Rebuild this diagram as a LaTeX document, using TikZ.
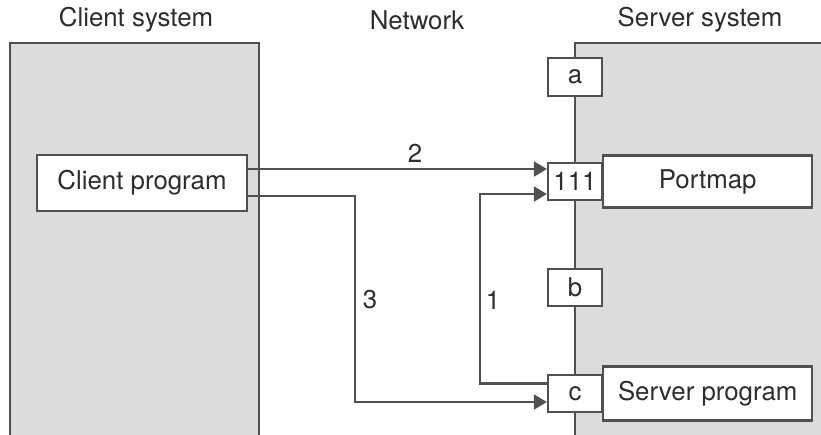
\documentclass[tikz,border=0pt]{standalone}
\usepackage{fontspec}
\setmainfont{TeX Gyre Heros}
\usetikzlibrary{arrows.meta,positioning}
\definecolor{sysgray}{RGB}{220,220,220}
\definecolor{linegray}{RGB}{80,80,80}
\definecolor{textgray}{RGB}{45,45,45}

\begin{document}
\begin{tikzpicture}[x=0.02cm, y=-0.02cm,
    lbl/.style={text=textgray, font=\fontsize{14.7}{17}\selectfont},
    progbox/.style={lbl, draw=linegray, fill=white, line width=1.3pt, minimum width=4.18cm},
    portbox/.style={lbl, draw=linegray, fill=white, line width=1.3pt, minimum width=1.08cm, minimum height=0.75cm, inner sep=0pt},
    link/.style={linegray, line width=1.2pt},
    tip/.style={-{Triangle[length=0.26cm, width=0.3cm]}}]
    \useasboundingbox (0,0) rectangle (821,434);

    % Systems
    \fill[sysgray] (10,43) rectangle (259,440);
    \draw[link, line width=1.3pt] (10,440) -- (10,43) -- (259,43) -- (259,440);
    \fill[sysgray] (575,43) rectangle (830,440);
    \draw[link, line width=1.3pt] (575,440) -- (575,43) -- (830,43);

    % Titles
    \node[lbl] (tclient) at (136,20) {Client system};
    \node[lbl] (tnet) at (417,20) {Network};
    \node[lbl] (tserver) at (700,20) {Server system};

    % Programs
    \node[progbox, minimum width=4.2cm, minimum height=1.12cm] (client) at (142,183) {Client program};
    \node[portbox] (pa) at (575,77) {a};
    \node[portbox] (p111) at (575,181.5) {111};
    \node[progbox, minimum height=1.04cm, right=-0.6pt of p111] (portmap) {Portmap};
    \node[portbox] (pb) at (575,287.5) {b};
    \node[portbox] (pc) at (575,393.5) {c};
    \node[progbox, minimum height=1.08cm, right=-0.6pt of pc] (server) {Server program};

    % Calls
    \coordinate (o2) at ([yshift=0.28cm]client.east);
    \coordinate (o3) at ([yshift=-0.26cm]client.east);
    \coordinate (i1) at ([yshift=-0.25cm]p111.west);
    \coordinate (o1) at ([yshift=0.2cm]pc.west);
    \coordinate (i3) at ([yshift=-0.17cm]pc.west);
    \draw[link, tip] (o2) -- (o2 -| p111.west);
    \draw[link, tip] (o3) -| (355,0 |- i3) -- (i3);
    \draw[link, tip] (o1) -| (480,0 |- i1) -- (i1);
    \node[lbl] (n2) at (415,153) {2};
    \node[lbl] (n3) at (370,300) {3};
    \node[lbl] (n1) at (493,300) {1};
\end{tikzpicture}
\end{document}
